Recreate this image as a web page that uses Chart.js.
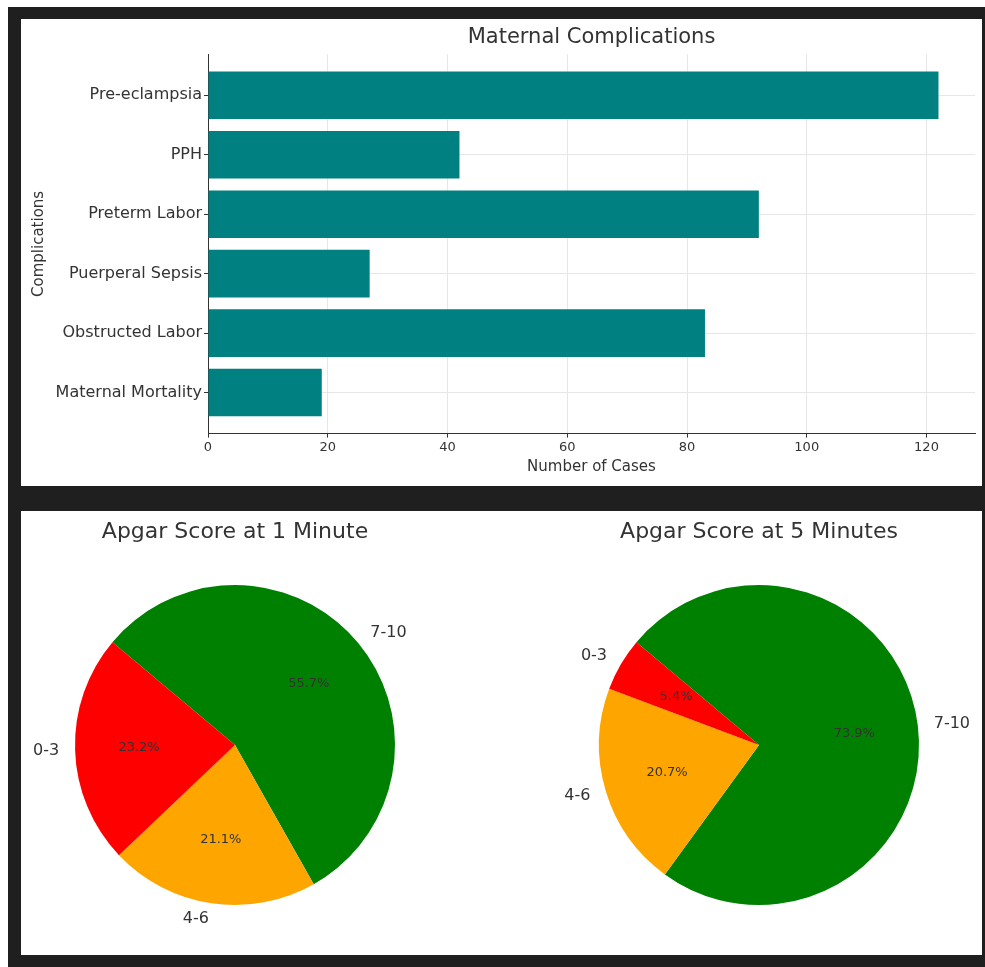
<!DOCTYPE html>
<html>
<head>
<meta charset="utf-8">
<title>Maternal Complications and Apgar Scores</title>
<script src="https://cdn.jsdelivr.net/npm/chart.js@4.4.1/dist/chart.umd.min.js"></script>
<style>
    html, body {margin: 0; padding: 0; background: #fff;}
    .frame {position: absolute; left: 8px; top: 7px; width: 977px; height: 960px; background: #1f1f1f;}
    .panel {position: absolute; background: #fff;}
    #topPanel {left: 21px; top: 19px; width: 961px; height: 467px;}
    #bottomPanel {left: 21px; top: 511px; width: 961px; height: 444px;}
    canvas {position: absolute; top: 0;}
</style>
</head>
<body>
<div class="frame"></div>
<div class="panel" id="topPanel"><canvas id="barChart" width="960" height="467" style="left:0"></canvas></div>
<div class="panel" id="bottomPanel">
    <canvas id="pie1" width="480" height="444" style="left:0"></canvas>
    <canvas id="pie2" width="480" height="444" style="left:480px"></canvas>
</div>
<script>
// ---- data ----
const complications = ['Pre-eclampsia', 'PPH', 'Preterm Labor', 'Puerperal Sepsis', 'Obstructed Labor', 'Maternal Mortality'];
const cases = [122, 42, 92, 27, 83, 19];

const apgarBands = ['0-3', '4-6', '7-10'];
const apgar1Min = [23.2, 21.1, 55.7];
const apgar5Min = [5.4, 20.7, 73.9];
const bandColors = ['#ff0000', '#ffa500', '#008000'];

Chart.defaults.font.family = '"DejaVu Sans", sans-serif';
Chart.defaults.color = '#333';

// ---- bar chart ----
new Chart(document.getElementById('barChart'), {
    type: 'bar',
    data: {
        datasets: [{
            data: cases.map((v, i) => ({x: v, y: i})),
            backgroundColor: '#008080',
            borderWidth: 0,
            barPercentage: 1,
            categoryPercentage: 0.8
        }]
    },
    options: {
        indexAxis: 'y',
        responsive: false,
        animation: false,
        layout: {padding: {left: 0, right: 6, top: 0, bottom: 0}},
        plugins: {
            legend: {display: false},
            tooltip: {enabled: false},
            title: {
                display: true,
                fullSize: false,
                text: 'Maternal Complications',
                font: {size: 21, weight: 'normal'},
                color: '#333',
                padding: {top: 6, bottom: 4}
            }
        },
        scales: {
            x: {
                type: 'linear',
                min: 0,
                max: 128.1,
                ticks: {stepSize: 20, includeBounds: false, font: {size: 13}, padding: 2, maxRotation: 0},
                grid: {color: '#e6e6e6', tickColor: '#333', tickLength: 4},
                border: {color: '#333'},
                title: {display: true, text: 'Number of Cases', font: {size: 15}, padding: {top: 0, bottom: 10}},
                afterFit: s => { s.height = 52.4; }
            },
            y: {
                type: 'linear',
                reverse: true,
                offset: false,
                min: -0.69,
                max: 5.69,
                ticks: {
                    stepSize: 1,
                    includeBounds: false,
                    font: {size: 16},
                    padding: 2,
                    callback: v => Number.isInteger(v) ? complications[v] : ''
                },
                grid: {offset: false, color: '#e6e6e6', tickColor: '#333', tickLength: 4},
                border: {color: '#333'},
                title: {display: true, text: 'Complications', font: {size: 15}, padding: {top: 9, bottom: 0}},
                afterFit: s => { s.width = 187; }
            }
        }
    }
});

// ---- pie labels (outside names, inside percentages) ----
const pieLabels = {
    id: 'pieLabels',
    afterDatasetsDraw(chart) {
        const ctx = chart.ctx;
        const ds = chart.data.datasets[0];
        const total = ds.data.reduce((a, b) => a + b, 0);
        chart.getDatasetMeta(0).data.forEach((arc, i) => {
            const {x, y, startAngle, endAngle, outerRadius} = arc.getProps(['x', 'y', 'startAngle', 'endAngle', 'outerRadius'], true);
            const mid = (startAngle + endAngle) / 2;
            const c = Math.cos(mid), s = Math.sin(mid);
            ctx.save();
            ctx.textBaseline = 'middle';
            ctx.fillStyle = '#333';
            ctx.font = '16px "DejaVu Sans"';
            ctx.textAlign = c > 0 ? 'left' : 'right';
            ctx.fillText(chart.data.labels[i], x + 1.1 * outerRadius * c, y + 1.1 * outerRadius * s);
            ctx.font = '13px "DejaVu Sans"';
            ctx.textAlign = 'center';
            ctx.fillText((ds.data[i] / total * 100).toFixed(1) + '%', x + 0.6 * outerRadius * c, y + 0.6 * outerRadius * s);
            ctx.restore();
        });
    }
};

function makePie(id, title, values, padLeft, padRight) {
    // slices run clockwise in Chart.js, so reverse to keep the reference's anticlockwise order
    new Chart(document.getElementById(id), {
        type: 'pie',
        data: {
            labels: apgarBands.slice().reverse(),
            datasets: [{
                data: values.slice().reverse(),
                backgroundColor: bandColors.slice().reverse(),
                borderWidth: 0
            }]
        },
        options: {
            responsive: false,
            animation: false,
            rotation: -50,
            layout: {padding: {left: padLeft, right: padRight, top: 0, bottom: 50}},
            plugins: {
                legend: {display: false},
                tooltip: {enabled: false},
                title: {
                    display: true,
                    text: title,
                    font: {size: 22, weight: 'normal'},
                    color: '#333',
                    padding: {top: 8, bottom: 39.6}
                }
            }
        },
        plugins: [pieLabels]
    });
}

makePie('pie1', 'Apgar Score at 1 Minute', apgar1Min, 54, 106);
makePie('pie2', 'Apgar Score at 5 Minutes', apgar5Min, 98, 62);
</script>
</body>
</html>
